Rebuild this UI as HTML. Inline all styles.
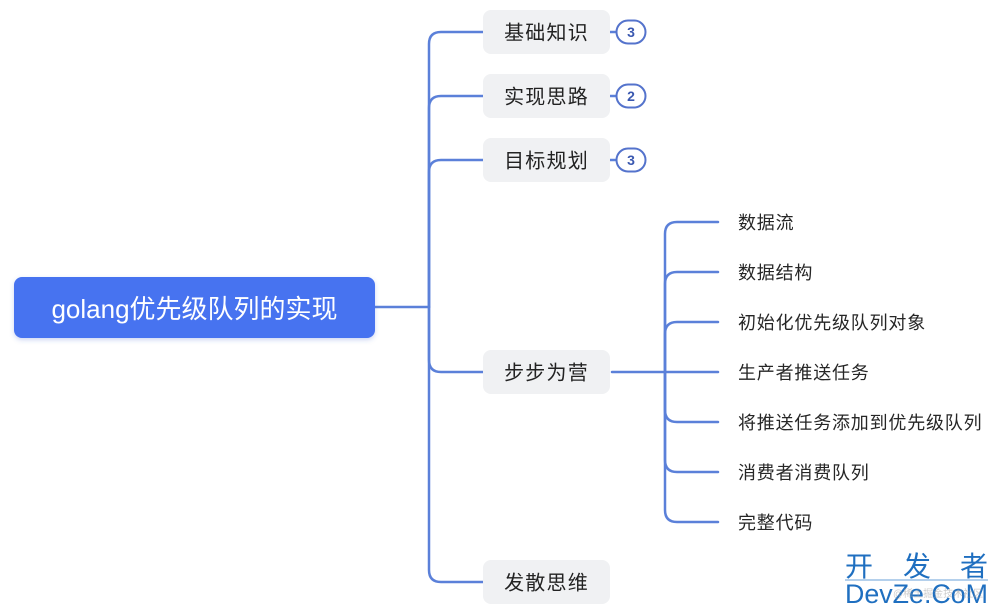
<!DOCTYPE html>
<html><head><meta charset="utf-8"><style>
html,body{margin:0;padding:0;background:#fff;}
svg{display:block;}
.cjk{font-family:"Liberation Sans","Noto Sans CJK SC",sans-serif;}
</style></head><body>
<svg width="1000" height="616" viewBox="0 0 1000 616" xmlns="http://www.w3.org/2000/svg">
<defs>
<filter id="sh" x="-10%" y="-30%" width="120%" height="160%">
<feDropShadow dx="0" dy="2" stdDeviation="2.5" flood-color="#3a5fd0" flood-opacity="0.25"/>
</filter>
</defs>
<g fill="none" stroke="#5b80d9" stroke-width="2.5" stroke-linecap="round">
<path d="M375,307 L429,307"/>
<path d="M429,307 L429,44 Q429,32 441,32 L483,32"/>
<path d="M429,307 L429,108 Q429,96 441,96 L483,96"/>
<path d="M429,307 L429,172 Q429,160 441,160 L483,160"/>
<path d="M429,307 L429,360 Q429,372 441,372 L483,372"/>
<path d="M429,307 L429,570 Q429,582 441,582 L483,582"/>
<path d="M610,32 L616,32"/>
<path d="M610,96 L616,96"/>
<path d="M610,160 L616,160"/>
<path d="M612,372 L718,372"/>
<path d="M665,372 L665,234 Q665,222 677,222 L718,222"/>
<path d="M665,372 L665,284 Q665,272 677,272 L718,272"/>
<path d="M665,372 L665,334 Q665,322 677,322 L718,322"/>
<path d="M665,372 L665,410 Q665,422 677,422 L718,422"/>
<path d="M665,372 L665,460 Q665,472 677,472 L718,472"/>
<path d="M665,372 L665,510 Q665,522 677,522 L718,522"/>
</g>
<rect x="14" y="277" width="361" height="61" rx="8" fill="#4673f0" filter="url(#sh)"/>
<text class="cjk" x="194.5" y="318" font-size="26" fill="#fff" text-anchor="middle">golang优先级队列的实现</text>
<g fill="#f0f1f3">
<rect x="483" y="10" width="127" height="44" rx="8"/>
<rect x="483" y="74" width="127" height="44" rx="8"/>
<rect x="483" y="138" width="127" height="44" rx="8"/>
<rect x="483" y="350" width="127" height="44" rx="8"/>
<rect x="483" y="560" width="127" height="44" rx="8"/>
</g>
<g class="cjk" font-size="20" fill="#222" text-anchor="middle" letter-spacing="1.2">
<text x="546.5" y="39.6">基础知识</text>
<text x="546.5" y="103.6">实现思路</text>
<text x="546.5" y="167.6">目标规划</text>
<text x="546.5" y="379.6">步步为营</text>
<text x="546.5" y="589.6">发散思维</text>
</g>
<g fill="#fff" stroke="#5473cc" stroke-width="2">
<rect x="616.5" y="20.5" width="29" height="23" rx="11.5"/>
<rect x="616.5" y="84.5" width="29" height="23" rx="11.5"/>
<rect x="616.5" y="148.5" width="29" height="23" rx="11.5"/>
</g>
<g font-family="Liberation Sans, sans-serif" font-weight="bold" font-size="14" fill="#3a58b0" text-anchor="middle">
<text x="631" y="37">3</text>
<text x="631" y="101">2</text>
<text x="631" y="165">3</text>
</g>
<g class="cjk" font-size="18" fill="#262626" letter-spacing="0.8">
<text x="738" y="228.8">数据流</text>
<text x="738" y="278.8">数据结构</text>
<text x="738" y="328.8">初始化优先级队列对象</text>
<text x="738" y="378.8">生产者推送任务</text>
<text x="738" y="428.8">将推送任务添加到优先级队列</text>
<text x="738" y="478.8">消费者消费队列</text>
<text x="738" y="528.8">完整代码</text>
</g>
<g class="cjk" font-size="28" fill="#1f6fc0">
<text x="845" y="576">开</text>
<text x="903" y="576">发</text>
<text x="960" y="576">者</text>
</g>
<line x1="845" y1="580" x2="988" y2="580" stroke="#6aa0d8" stroke-width="1"/>
<text x="845" y="603" font-family="Liberation Sans, sans-serif" font-size="27" fill="#1f6fc0" textLength="143" lengthAdjust="spacingAndGlyphs">DevZe.CoM</text>
<text class="cjk" x="893" y="597" font-size="10" fill="#999" opacity="0.5">@稀土掘金技术社区</text>
</svg>
</body></html>
